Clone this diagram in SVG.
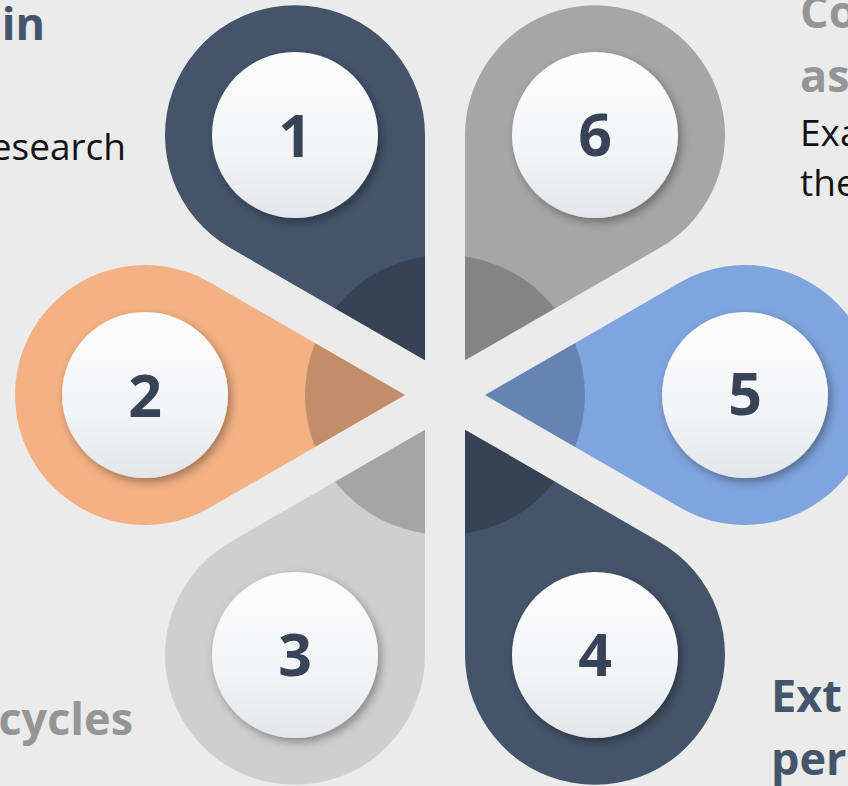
<svg xmlns="http://www.w3.org/2000/svg" width="848" height="786" viewBox="0 0 848 786">
<style>
.bg{fill:#ebebeb}
.hd{font-family:"Open Sans","Liberation Sans",sans-serif;font-weight:700;font-size:45px}
.tx{font-family:"Open Sans","Liberation Sans",sans-serif;font-weight:400;font-size:37px;fill:#111111}
.num{font-family:"Open Sans","Liberation Sans",sans-serif;font-weight:700;font-size:59px;fill:#384358;text-anchor:middle}
.ball{fill:url(#ballGrad);filter:url(#shadow)}
.dark{fill:#44546a}.orange{fill:#f4b183}.blue{fill:#7fa5de}.grey{fill:#a6a6a6}.light{fill:#cfcfcf}
</style>
<defs>
<path id="petal" d="M40,0 L235,-112.58 A130,130 0 1,1 235,112.58 Z"/>
<linearGradient id="ballGrad" x1="0" y1="0" x2="0" y2="1">
<stop offset="0" stop-color="#fdfdfd"/>
<stop offset="0.6" stop-color="#f3f4f6"/>
<stop offset="1" stop-color="#e4e5e8"/>
</linearGradient>
<filter id="shadow" x="-30%" y="-30%" width="160%" height="160%">
<feDropShadow dx="3" dy="4" stdDeviation="5" flood-color="#000" flood-opacity="0.35"/>
</filter>
<clipPath id="petalClip">
<use href="#petal" transform="translate(445,395) rotate(0)"/>
<use href="#petal" transform="translate(445,395) rotate(60)"/>
<use href="#petal" transform="translate(445,395) rotate(120)"/>
<use href="#petal" transform="translate(445,395) rotate(180)"/>
<use href="#petal" transform="translate(445,395) rotate(240)"/>
<use href="#petal" transform="translate(445,395) rotate(300)"/>
</clipPath>
</defs>
<rect class="bg" x="0" y="0" width="848" height="786"/>
<g id="connectors"/>
<g id="petal1"><use href="#petal" class="dark" transform="translate(445,395) rotate(240)"/></g>
<g id="petal2"><use href="#petal" class="orange" transform="translate(445,395) rotate(180)"/></g>
<g id="petal3"><use href="#petal" class="light" transform="translate(445,395) rotate(120)"/></g>
<g id="petal4"><use href="#petal" class="dark" transform="translate(445,395) rotate(60)"/></g>
<g id="petal5"><use href="#petal" class="blue" transform="translate(445,395) rotate(0)"/></g>
<g id="petal6"><use href="#petal" class="grey" transform="translate(445,395) rotate(300)"/></g>
<g id="hub"><circle cx="445" cy="395" r="140" fill="#000" fill-opacity="0.2" clip-path="url(#petalClip)"/></g>
<g id="node1"><circle class="ball" cx="295" cy="135" r="83"/><text class="num" x="295" y="157">1</text></g>
<g id="node2"><circle class="ball" cx="145" cy="395" r="83"/><text class="num" x="145" y="417">2</text></g>
<g id="node3"><circle class="ball" cx="295" cy="655" r="83"/><text class="num" x="295" y="676">3</text></g>
<g id="node4"><circle class="ball" cx="595" cy="655" r="83"/><text class="num" x="595" y="676">4</text></g>
<g id="node5"><circle class="ball" cx="745" cy="395" r="83"/><text class="num" x="745" y="415">5</text></g>
<g id="node6"><circle class="ball" cx="595" cy="135" r="83"/><text class="num" x="595" y="156">6</text></g>
<g id="label1">
<text class="hd" x="45" y="40" text-anchor="end" fill="#44546a">in</text>
<text class="tx" x="126" y="160" text-anchor="end">esearch</text>
</g>
<g id="label3"><text class="hd" x="133" y="735" text-anchor="end" fill="#959595">cycles</text></g>
<g id="label6">
<text class="hd" x="800" y="28" fill="#959595">Co</text>
<text class="hd" x="800" y="92" fill="#959595">as</text>
<text class="tx" x="800" y="146">Exa</text>
<text class="tx" x="800" y="196">the</text>
</g>
<g id="label4">
<text class="hd" x="771" y="712" fill="#44546a">Ext</text>
<text class="hd" x="771" y="775" fill="#44546a">per</text>
</g>
</svg>
